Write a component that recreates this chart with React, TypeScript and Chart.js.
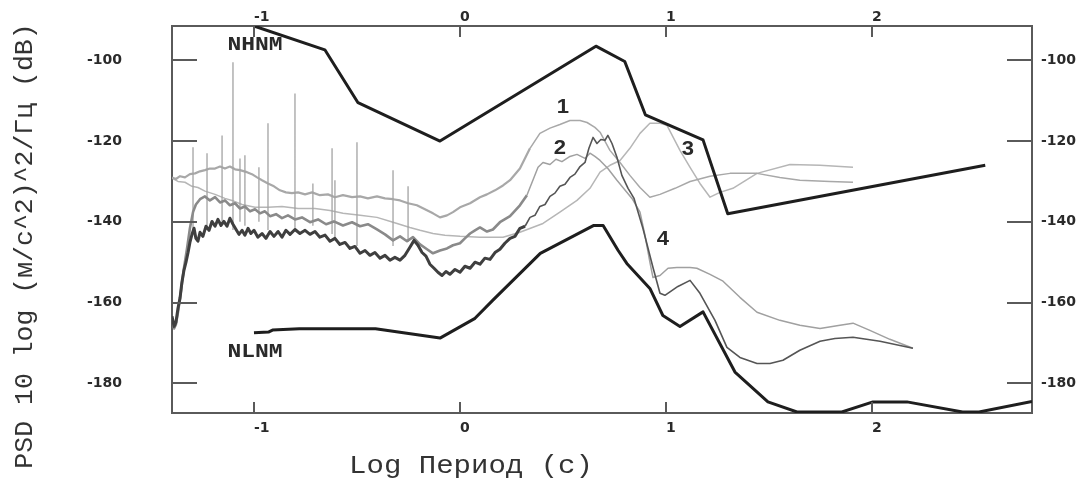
import React, { useEffect, useRef } from 'react';
import { Chart, registerables } from 'chart.js';

Chart.register(...registerables);

// Axis ranges and ticks
const X_MIN = -1.398;
const X_MAX = 2.777;
const Y_MIN = -187.35;
const Y_MAX = -91.5;
const X_TICKS = [-1, 0, 1, 2];
const Y_TICKS = [-100, -120, -140, -160, -180];

const Y_TITLE = 'PSD 10 log (м/с^2)^2/Гц (dB)';
const X_TITLE = 'Log Период (с)';

// Peterson models
const NHNM: [number, number][] = [
  [-1.0, -91.5], [-0.656, -97.4], [-0.495, -110.5], [-0.097, -120.0], [0.66, -96.5],
  [0.80, -100.3], [0.90, -113.5], [1.18, -119.7], [1.30, -138.0], [2.55, -126.0],
];
const NLNM: [number, number][] = [
  [-1.0, -167.5], [-0.93, -167.3], [-0.91, -166.8], [-0.78, -166.5], [-0.41, -166.5],
  [-0.097, -168.8], [0.073, -163.9], [0.16, -159.4], [0.39, -147.8], [0.65, -140.9],
  [0.695, -140.9], [0.768, -147.1], [0.81, -150.3], [0.922, -156.5], [0.985, -163.2],
  [1.068, -165.9], [1.18, -162.3], [1.335, -177.2], [1.495, -184.6], [1.636, -187.1],
  [1.854, -187.1], [2.005, -184.6], [2.17, -184.6], [2.44, -187.1], [2.52, -187.1], [2.777, -184.5],
];

// Curve 1
const CURVE1: [number, number][] = [
  [-1.398, -129.0], [-1.379, -129.4], [-1.359, -128.7], [-1.335, -129.0], [-1.311, -128.2],
  [-1.286, -128.0], [-1.262, -127.5], [-1.238, -127.2], [-1.214, -126.8], [-1.189, -126.8],
  [-1.165, -126.3], [-1.141, -126.8], [-1.117, -126.3], [-1.092, -127.0], [-1.068, -127.2],
  [-1.034, -127.7], [-1.010, -128.2], [-0.985, -129.0], [-0.961, -129.7], [-0.932, -130.5],
  [-0.903, -131.2], [-0.874, -132.2], [-0.845, -132.7], [-0.816, -132.9], [-0.786, -132.7],
  [-0.752, -133.2], [-0.718, -132.7], [-0.680, -133.4], [-0.641, -133.2], [-0.607, -133.9],
  [-0.568, -133.4], [-0.524, -133.9], [-0.485, -133.7], [-0.447, -134.2], [-0.403, -133.7],
  [-0.364, -134.2], [-0.325, -134.4], [-0.291, -134.7], [-0.252, -135.4], [-0.209, -135.9],
  [-0.170, -136.9], [-0.131, -137.9], [-0.097, -138.9], [-0.063, -138.4], [-0.034, -137.6],
  [0.0, -136.4], [0.049, -135.4], [0.097, -133.9], [0.131, -133.2], [0.170, -132.2],
  [0.209, -131.0], [0.243, -129.7], [0.291, -126.8], [0.340, -121.8], [0.388, -118.1],
  [0.437, -116.8], [0.485, -115.9], [0.534, -114.9], [0.583, -114.9], [0.617, -115.4],
  [0.655, -116.6], [0.680, -117.8], [0.728, -122.3], [0.777, -125.3], [0.825, -128.5],
  [0.874, -131.5], [0.922, -133.9], [0.971, -133.2], [1.044, -131.7], [1.117, -130.0],
  [1.214, -128.7], [1.311, -128.0], [1.442, -128.0], [1.553, -129.0], [1.650, -129.7],
  [1.796, -130.0], [1.908, -130.2],
];

// Curve 2
const CURVE2: [number, number][] = [
  [-1.398, -164.9], [-1.388, -166.4], [-1.379, -165.4], [-1.369, -162.4], [-1.354, -157.0],
  [-1.340, -151.5], [-1.325, -146.6], [-1.311, -141.6], [-1.296, -137.6], [-1.282, -135.7],
  [-1.262, -134.4], [-1.238, -133.7], [-1.214, -134.7], [-1.189, -133.9], [-1.165, -135.2],
  [-1.141, -134.7], [-1.117, -135.9], [-1.092, -135.4], [-1.068, -136.7], [-1.044, -136.2],
  [-1.019, -137.4], [-0.995, -136.9], [-0.971, -137.9], [-0.947, -137.4], [-0.922, -138.6],
  [-0.893, -138.1], [-0.864, -139.1], [-0.835, -138.4], [-0.801, -139.4], [-0.767, -138.9],
  [-0.728, -140.1], [-0.689, -139.4], [-0.650, -140.6], [-0.612, -139.9], [-0.568, -140.9],
  [-0.524, -140.1], [-0.485, -141.1], [-0.447, -140.6], [-0.403, -141.9], [-0.364, -143.1],
  [-0.325, -144.6], [-0.291, -143.6], [-0.257, -144.8], [-0.228, -143.8], [-0.194, -145.6],
  [-0.160, -146.8], [-0.131, -147.8], [-0.097, -147.1], [-0.063, -146.6], [-0.034, -145.8],
  [0.0, -145.3], [0.024, -144.1], [0.049, -142.9], [0.073, -142.1], [0.097, -141.4],
  [0.131, -142.4], [0.160, -141.9], [0.194, -140.1], [0.243, -138.6], [0.291, -135.9],
  [0.325, -133.4], [0.354, -129.7], [0.379, -126.5], [0.403, -125.3], [0.437, -125.8],
  [0.466, -124.5], [0.495, -125.1], [0.534, -123.8], [0.568, -123.3], [0.607, -124.3],
  [0.631, -123.0], [0.655, -123.8], [0.680, -124.8], [0.718, -126.8], [0.762, -129.7],
  [0.791, -131.5], [0.835, -134.2], [0.874, -137.6], [0.898, -143.3], [0.922, -150.0],
  [0.937, -153.8], [0.971, -153.3], [1.010, -151.5], [1.053, -151.3], [1.117, -151.3],
  [1.150, -151.5], [1.214, -153.0], [1.277, -154.7], [1.359, -158.7], [1.442, -162.4],
  [1.553, -164.4], [1.650, -165.6], [1.748, -166.4], [1.845, -165.6], [1.908, -165.1],
  [1.990, -166.9], [2.087, -169.1], [2.199, -171.3],
];

// Curve 3
const CURVE3: [number, number][] = [
  [-1.398, -129.2], [-1.369, -130.0], [-1.335, -130.2], [-1.301, -131.2], [-1.272, -131.5],
  [-1.238, -132.4], [-1.189, -133.2], [-1.141, -134.2], [-1.107, -134.7], [-1.058, -135.7],
  [-0.995, -136.4], [-0.932, -136.4], [-0.864, -136.2], [-0.786, -136.7], [-0.704, -136.7],
  [-0.631, -137.2], [-0.568, -137.9], [-0.485, -138.4], [-0.403, -138.9], [-0.325, -140.1],
  [-0.243, -141.4], [-0.194, -142.1], [-0.131, -142.9], [-0.073, -143.3], [0.0, -143.6],
  [0.097, -143.8], [0.209, -143.8], [0.291, -142.6], [0.403, -140.4], [0.485, -137.6],
  [0.568, -134.7], [0.631, -131.7], [0.680, -127.7], [0.728, -126.0], [0.777, -124.8],
  [0.825, -121.8], [0.874, -118.1], [0.922, -115.6], [0.971, -115.6], [1.005, -116.1],
  [1.068, -122.3], [1.117, -126.5], [1.165, -130.5], [1.214, -133.9], [1.262, -132.7],
  [1.325, -131.7], [1.442, -128.0], [1.602, -125.8], [1.748, -126.0], [1.908, -126.5],
];

// Curve 4
const CURVE4: [number, number][] = [
  [-1.398, -163.4], [-1.388, -165.9], [-1.379, -164.9], [-1.369, -161.4], [-1.359, -158.9],
  [-1.350, -155.0], [-1.340, -152.0], [-1.330, -150.0], [-1.320, -147.6], [-1.311, -145.1],
  [-1.301, -143.1], [-1.291, -141.6], [-1.282, -144.1], [-1.272, -144.8], [-1.262, -142.6],
  [-1.248, -143.6], [-1.233, -141.1], [-1.218, -142.1], [-1.204, -139.9], [-1.189, -141.1],
  [-1.175, -139.4], [-1.160, -140.9], [-1.146, -139.9], [-1.131, -141.1], [-1.117, -139.1],
  [-1.102, -140.6], [-1.087, -141.9], [-1.073, -143.1], [-1.058, -142.1], [-1.044, -143.3],
  [-1.029, -141.6], [-1.015, -142.9], [-1.000, -142.1], [-0.981, -143.8], [-0.961, -142.9],
  [-0.942, -144.1], [-0.922, -142.4], [-0.903, -143.6], [-0.883, -142.4], [-0.864, -143.8],
  [-0.845, -142.1], [-0.825, -143.1], [-0.801, -141.9], [-0.777, -142.9], [-0.752, -142.1],
  [-0.728, -143.1], [-0.704, -142.4], [-0.680, -143.8], [-0.655, -143.3], [-0.631, -144.8],
  [-0.607, -144.1], [-0.583, -145.6], [-0.558, -145.1], [-0.534, -146.6], [-0.510, -146.1],
  [-0.485, -147.8], [-0.461, -147.1], [-0.437, -148.3], [-0.413, -147.6], [-0.388, -149.0],
  [-0.364, -148.3], [-0.340, -149.5], [-0.316, -148.8], [-0.291, -149.5], [-0.267, -148.3],
  [-0.243, -146.3], [-0.223, -144.6], [-0.204, -145.8], [-0.184, -147.6], [-0.165, -148.5],
  [-0.146, -150.5], [-0.126, -151.5], [-0.107, -152.5], [-0.087, -153.3], [-0.068, -152.3],
  [-0.049, -153.0], [-0.024, -151.8], [0.0, -152.5], [0.024, -151.0], [0.049, -151.5],
  [0.073, -150.0], [0.097, -150.5], [0.121, -149.0], [0.146, -149.3], [0.170, -147.6],
  [0.194, -146.8], [0.218, -145.3], [0.243, -144.1], [0.267, -143.6], [0.291, -141.6],
  [0.316, -141.1], [0.340, -138.9], [0.364, -138.4], [0.388, -136.2], [0.413, -135.7],
  [0.437, -133.7], [0.461, -132.9], [0.485, -131.2], [0.510, -130.7], [0.534, -129.0],
  [0.558, -128.2], [0.583, -126.3], [0.607, -125.3], [0.626, -121.8], [0.646, -119.1],
  [0.665, -120.6], [0.684, -119.6], [0.704, -119.8], [0.718, -118.6], [0.738, -120.6],
  [0.762, -124.0], [0.786, -128.5], [0.816, -131.7], [0.845, -134.2], [0.888, -141.6],
  [0.937, -151.3], [0.971, -157.7], [0.995, -158.2], [1.058, -156.0], [1.117, -154.5],
  [1.165, -157.7], [1.238, -164.4], [1.296, -171.1], [1.359, -173.6], [1.442, -175.1],
  [1.505, -175.1], [1.568, -174.3], [1.650, -171.8], [1.748, -169.6], [1.820, -168.9],
  [1.908, -168.6], [2.039, -169.6], [2.199, -171.3],
];

// Narrow spectral spikes
const SPIKE_X = [-1.296, -1.228, -1.155, -1.102, -1.068, -1.044, -0.976, -0.932, -0.801, -0.714, -0.621, -0.607, -0.50, -0.325, -0.252];
const SPIKE_TOP = [-121.5, -123.0, -118.6, -100.5, -124.3, -123.5, -126.5, -115.6, -108.2, -130.5, -121.8, -129.7, -120.3, -127.2, -131.2];
const SPIKE_BASE = [-143.0, -141.0, -140.0, -142.0, -140.0, -141.0, -140.0, -142.0, -142.0, -141.0, -143.0, -144.0, -146.0, -146.0, -145.0];

// Text annotations [text, x, baseline y]
const NOTES: [string, number, number][] = [
  ['NHNM', -0.995, -97.5],
  ['NLNM', -0.995, -173.6],
];
const CURVE_LABELS: [string, number, number][] = [
  ['1', 0.50, -113.1],
  ['2', 0.485, -123.3],
  ['3', 1.107, -123.5],
  ['4', 0.985, -145.8],
];

const toPts = (a: [number, number][]) => a.map(([x, y]) => ({ x, y }));

const spikePts = () => {
  const out: { x: number; y: number | null }[] = [];
  SPIKE_X.forEach((x, i) => {
    out.push({ x, y: SPIKE_BASE[i] });
    out.push({ x, y: SPIKE_TOP[i] });
    out.push({ x, y: null });
  });
  return out;
};

const drawStretched = (ctx: CanvasRenderingContext2D, text: string, x: number, y: number, font: string, sx: number) => {
  ctx.save();
  ctx.translate(x, y);
  ctx.scale(sx, 1);
  ctx.font = font;
  ctx.textAlign = 'center';
  ctx.textBaseline = 'alphabetic';
  ctx.fillText(text, 0, 0);
  ctx.restore();
};

const decorPlugin = {
  id: 'decor',
  afterDraw(chart: any) {
    const ctx: CanvasRenderingContext2D = chart.ctx;
    const { left, right, top, bottom } = chart.chartArea;
    const xs = chart.scales.x;
    const ys = chart.scales.y;
    ctx.save();
    ctx.strokeStyle = '#5a5a5a';
    ctx.lineWidth = 2;
    ctx.beginPath();
    Y_TICKS.forEach((v) => {
      const py = Math.round(ys.getPixelForValue(v));
      ctx.moveTo(left, py); ctx.lineTo(left + 25, py);
      ctx.moveTo(right - 25, py); ctx.lineTo(right, py);
    });
    X_TICKS.forEach((v) => {
      const px = Math.round(xs.getPixelForValue(v));
      ctx.moveTo(px, bottom); ctx.lineTo(px, bottom - 11);
      ctx.moveTo(px, top); ctx.lineTo(px, top + 11);
    });
    ctx.stroke();

    ctx.fillStyle = '#2a2a2a';
    NOTES.forEach(([t, x, y]) => {
      drawStretched(ctx, t, xs.getPixelForValue(x), ys.getPixelForValue(y), 'bold 20px "Liberation Mono"', 1.15);
    });
    CURVE_LABELS.forEach(([t, x, y]) => {
      drawStretched(ctx, t, xs.getPixelForValue(x), ys.getPixelForValue(y), 'bold 21px "Liberation Sans"', 1.05);
    });

    // axis titles
    ctx.fillStyle = '#333';
    drawStretched(ctx, X_TITLE, 471, 473, '26.5px "Liberation Mono"', 1.095);
    ctx.save();
    ctx.translate(32, 246);
    ctx.rotate(-Math.PI / 2);
    ctx.font = '26.5px "Liberation Mono"';
    ctx.textAlign = 'center';
    ctx.textBaseline = 'alphabetic';
    ctx.fillText(Y_TITLE, 0, 0);
    ctx.restore();
    ctx.restore();
  },
};

export default function App() {
  const ref = useRef<HTMLCanvasElement | null>(null);
  useEffect(() => {
    if (!ref.current) return;
    const tickFont = { family: '"DejaVu Sans"', size: 14, weight: 'bold' as const };
    const border = { display: true, color: '#5a5a5a', width: 2 };
    const grid = { display: false, drawTicks: false };
    const setX = (s: any) => { s.ticks = X_TICKS.map((v) => ({ value: v })); };
    const setY = (s: any) => { s.ticks = Y_TICKS.map((v) => ({ value: v })); };
    const fitX = (h: number) => (s: any) => { s.height = h; s.paddingLeft = 0; s.paddingRight = 0; };
    const fitY = (w: number) => (s: any) => { s.width = w; s.paddingTop = 0; s.paddingBottom = 0; };
    const leftWide = (wide: number, thin: number) => (c: any) => (c.p0.parsed.x < 0.3 ? wide : thin);
    const chart = new Chart(ref.current, {
      type: 'line',
      data: {
        datasets: [
          { label: 'NHNM', data: toPts(NHNM), borderColor: '#1e1e1e', borderWidth: 3 },
          { label: 'NLNM', data: toPts(NLNM), borderColor: '#1e1e1e', borderWidth: 3 },
          {
            label: '4', data: toPts(CURVE4), borderColor: '#454545', borderWidth: 1.6,
            segment: { borderWidth: leftWide(3, 1.6), borderColor: (c: any) => (c.p0.parsed.x < 0.3 ? '#3f3f3f' : '#555555') },
          },
          {
            label: '2', data: toPts(CURVE2), borderColor: '#8e8e8e', borderWidth: 1.5,
            segment: { borderWidth: leftWide(2.6, 1.5), borderColor: (c: any) => (c.p0.parsed.x < 0.3 ? '#8a8a8a' : '#a0a0a0') },
          },
          { label: 'spikes', data: spikePts() as any, borderColor: '#a3a3a3', borderWidth: 1.3, spanGaps: false },
          {
            label: '1', data: toPts(CURVE1), borderColor: '#a8a8a8', borderWidth: 1.5,
            segment: { borderWidth: leftWide(2.2, 1.5) },
          },
          { label: '3', data: toPts(CURVE3), borderColor: '#b6b6b6', borderWidth: 1.5 },
        ] as any,
      },
      options: {
        animation: false,
        responsive: false,
        devicePixelRatio: 1,
        layout: { padding: 0 },
        elements: { point: { radius: 0 }, line: { tension: 0, borderJoinStyle: 'round' } },
        plugins: { legend: { display: false }, tooltip: { enabled: false }, title: { display: false } },
        scales: {
          x: {
            type: 'linear', position: 'bottom', min: X_MIN, max: X_MAX,
            grid, border,
            ticks: { font: tickFont, color: '#2a2a2a', padding: 7, align: 'start', maxRotation: 0, callback: (v: any) => String(v) },
            afterBuildTicks: setX,
            afterFit: fitX(69),
          },
          x2: {
            type: 'linear', position: 'top', min: X_MIN, max: X_MAX,
            grid, border,
            ticks: { font: tickFont, color: '#2a2a2a', padding: 0, align: 'start', maxRotation: 0, callback: (v: any) => String(v) },
            afterBuildTicks: setX,
            afterFit: fitX(26),
          },
          y: {
            type: 'linear', position: 'left', min: Y_MIN, max: Y_MAX,
            grid, border,
            ticks: { font: tickFont, color: '#2a2a2a', padding: 50, callback: (v: any) => String(v) },
            afterBuildTicks: setY,
            afterFit: fitY(172),
          },
          y2: {
            type: 'linear', position: 'right', min: Y_MIN, max: Y_MAX,
            grid, border,
            ticks: { font: tickFont, color: '#2a2a2a', padding: 9, callback: (v: any) => String(v) },
            afterBuildTicks: setY,
            afterFit: fitY(49),
          },
        },
      } as any,
      plugins: [decorPlugin],
    });
    return () => chart.destroy();
  }, []);
  return (
    <div style={{ position: 'fixed', left: 0, top: 0, width: 1081, height: 482, background: '#fff' }}>
      <canvas ref={ref} width={1081} height={482} style={{ display: 'block', width: 1081, height: 482 }} />
    </div>
  );
}
